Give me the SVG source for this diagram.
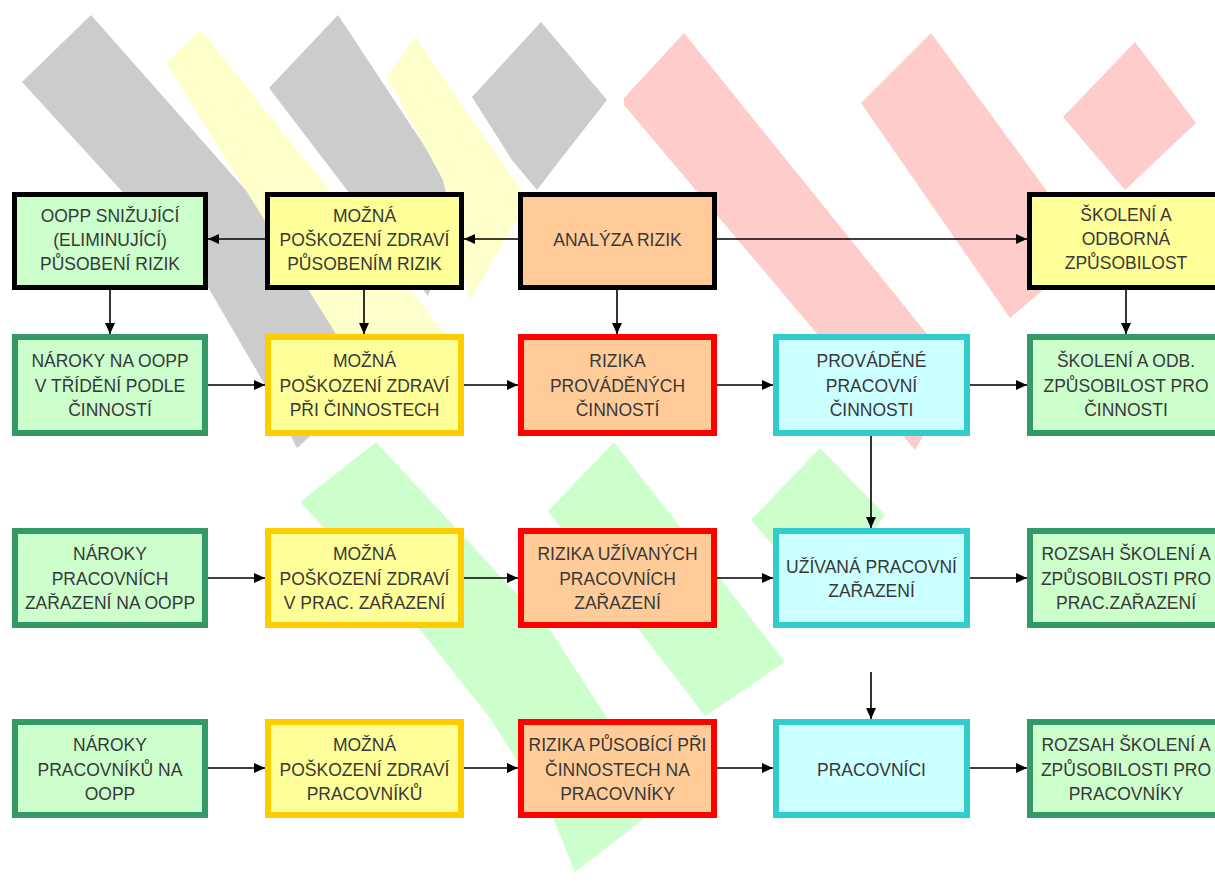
<svg xmlns="http://www.w3.org/2000/svg" width="1215" height="882" viewBox="0 0 1215 882">
<style>
.t{font-family:"Liberation Sans",Arial,sans-serif;font-size:17.5px;fill:#383838;text-anchor:middle}
.bk{stroke:#000;stroke-width:5}
.gn{fill:#ccffcc}
.yl{fill:#ffff99}
.pc{fill:#ffcc99}
.cy{fill:#ccffff}
.sg{stroke:#339966;stroke-width:6}
.sy{stroke:#ffcc00;stroke-width:6}
.sr{stroke:#ff0000;stroke-width:6}
.sc{stroke:#33cccc;stroke-width:6}
.bgG{fill:#cccccc}
.bgY{fill:#ffffcc}
.bgP{fill:#ffcccc}
.bgN{fill:#ccffcc}
.c{stroke:#000;stroke-width:1.6;fill:none;marker-end:url(#ah)}
</style>
<defs>
<marker id="ah" markerWidth="11" markerHeight="10" refX="11" refY="5" orient="auto" markerUnits="userSpaceOnUse">
<path d="M0,0L11,5L0,10z" fill="#000"/>
</marker>
</defs>
<rect width="1215" height="882" fill="#fff"/>
<g id="background">
<polygon class="bgG" points="91,15 396,360 297,448 265,385 205,282 22,82"/>
<polygon class="bgG" points="338,15 462,203 428,296 269,88"/>
<polygon class="bgG" points="541,22 607,100 560,160 537,190 512,160 472,97"/>
<polygon class="bgY" points="201,30 450,340 390,420 166,63"/>
<polygon class="bgY" points="415,37 528,200 470,300 443,180 387,77"/>
<polygon class="bgP" points="684,33 960,375 915,450 624,105 624,98"/>
<polygon class="bgP" points="931,33 1090,250 1010,318 861,103"/>
<polygon class="bgP" points="1135,42 1196,123 1125,190 1063,117"/>
<polygon class="bgN" points="376,442 550,630 607,718 645,818 575,872 553,818 490,718 420,630 300,502"/>
<polygon class="bgN" points="614,442 785,662 705,716 548,511"/>
<polygon class="bgN" points="820,448 885,515 820,600 751,520"/>
</g>
<g id="connectors">
<line class="c" x1="518" y1="239" x2="464" y2="239"/>
<line class="c" x1="265" y1="239" x2="208" y2="239"/>
<line class="c" x1="717" y1="239" x2="1027" y2="239"/>
<line class="c" x1="110" y1="290" x2="110" y2="334"/>
<line class="c" x1="364" y1="290" x2="364" y2="334"/>
<line class="c" x1="617" y1="290" x2="617" y2="334"/>
<line class="c" x1="1126" y1="290" x2="1126" y2="334"/>
<line class="c" x1="208" y1="385" x2="265" y2="385"/>
<line class="c" x1="464" y1="385" x2="518" y2="385"/>
<line class="c" x1="717" y1="385" x2="773" y2="385"/>
<line class="c" x1="970" y1="385" x2="1027" y2="385"/>
<line class="c" x1="871" y1="436" x2="871" y2="528"/>
<line class="c" x1="208" y1="578" x2="265" y2="578"/>
<line class="c" x1="464" y1="578" x2="518" y2="578"/>
<line class="c" x1="717" y1="578" x2="773" y2="578"/>
<line class="c" x1="970" y1="578" x2="1027" y2="578"/>
<line class="c" x1="871" y1="672" x2="871" y2="719"/>
<line class="c" x1="208" y1="768" x2="265" y2="768"/>
<line class="c" x1="464" y1="768" x2="518" y2="768"/>
<line class="c" x1="717" y1="768" x2="773" y2="768"/>
<line class="c" x1="970" y1="768" x2="1027" y2="768"/>
</g>
<g id="n-oopp-snizujici">
<rect class="gn bk" x="14.5" y="194.5" width="191" height="93"/>
<text class="t" x="110" y="222">OOPP SNIŽUJÍCÍ</text>
<text class="t" x="110" y="246">(ELIMINUJÍCÍ)</text>
<text class="t" x="110" y="270">PŮSOBENÍ RIZIK</text>
</g>
<g id="n-mozna-pusobenim">
<rect class="yl bk" x="267.5" y="194.5" width="194" height="93"/>
<text class="t" x="364.5" y="222">MOŽNÁ</text>
<text class="t" x="364.5" y="246">POŠKOZENÍ ZDRAVÍ</text>
<text class="t" x="364.5" y="270">PŮSOBENÍM RIZIK</text>
</g>
<g id="n-analyza">
<rect class="pc bk" x="520.5" y="194.5" width="194" height="93"/>
<text class="t" x="617.5" y="246">ANALÝZA RIZIK</text>
</g>
<g id="n-skoleni-odborna">
<rect class="yl bk" x="1029.5" y="194.5" width="193" height="93"/>
<text class="t" x="1126" y="221">ŠKOLENÍ A</text>
<text class="t" x="1126" y="245">ODBORNÁ</text>
<text class="t" x="1126" y="269">ZPŮSOBILOST</text>
</g>
<g id="n-naroky-cinnosti">
<rect class="gn sg" x="15" y="337" width="190" height="96"/>
<text class="t" x="110" y="367">NÁROKY NA OOPP</text>
<text class="t" x="110" y="391.5">V TŘÍDĚNÍ PODLE</text>
<text class="t" x="110" y="416">ČINNOSTÍ</text>
</g>
<g id="n-mozna-cinnosti">
<rect class="yl sy" x="268" y="337" width="193" height="96"/>
<text class="t" x="364.5" y="367">MOŽNÁ</text>
<text class="t" x="364.5" y="391.5">POŠKOZENÍ ZDRAVÍ</text>
<text class="t" x="364.5" y="416">PŘI ČINNOSTECH</text>
</g>
<g id="n-rizika-provadenych">
<rect class="pc sr" x="521" y="337" width="193" height="96"/>
<text class="t" x="617.5" y="367">RIZIKA</text>
<text class="t" x="617.5" y="391.5">PROVÁDĚNÝCH</text>
<text class="t" x="617.5" y="416">ČINNOSTÍ</text>
</g>
<g id="n-provadene-cinnosti">
<rect class="cy sc" x="776" y="337" width="191" height="96"/>
<text class="t" x="871.5" y="367">PROVÁDĚNÉ</text>
<text class="t" x="871.5" y="391.5">PRACOVNÍ</text>
<text class="t" x="871.5" y="416">ČINNOSTI</text>
</g>
<g id="n-skoleni-cinnosti">
<rect class="gn sg" x="1030" y="337" width="192" height="96"/>
<text class="t" x="1126" y="367">ŠKOLENÍ A ODB.</text>
<text class="t" x="1126" y="391.5">ZPŮSOBILOST PRO</text>
<text class="t" x="1126" y="416">ČINNOSTI</text>
</g>
<g id="n-naroky-zarazeni">
<rect class="gn sg" x="15" y="531" width="190" height="94"/>
<text class="t" x="110" y="560">NÁROKY</text>
<text class="t" x="110" y="584.5">PRACOVNÍCH</text>
<text class="t" x="110" y="609">ZAŘAZENÍ NA OOPP</text>
</g>
<g id="n-mozna-zarazeni">
<rect class="yl sy" x="268" y="531" width="193" height="94"/>
<text class="t" x="364.5" y="560">MOŽNÁ</text>
<text class="t" x="364.5" y="584.5">POŠKOZENÍ ZDRAVÍ</text>
<text class="t" x="364.5" y="609">V PRAC. ZAŘAZENÍ</text>
</g>
<g id="n-rizika-uzivanych">
<rect class="pc sr" x="521" y="531" width="193" height="94"/>
<text class="t" x="617.5" y="560">RIZIKA UŽÍVANÝCH</text>
<text class="t" x="617.5" y="584.5">PRACOVNÍCH</text>
<text class="t" x="617.5" y="609">ZAŘAZENÍ</text>
</g>
<g id="n-uzivana-zarazeni">
<rect class="cy sc" x="776" y="531" width="191" height="94"/>
<text class="t" x="871.5" y="572.5">UŽÍVANÁ PRACOVNÍ</text>
<text class="t" x="871.5" y="597">ZAŘAZENÍ</text>
</g>
<g id="n-rozsah-zarazeni">
<rect class="gn sg" x="1030" y="531" width="192" height="94"/>
<text class="t" x="1126" y="560">ROZSAH ŠKOLENÍ A</text>
<text class="t" x="1126" y="584.5">ZPŮSOBILOSTI PRO</text>
<text class="t" x="1126" y="609">PRAC.ZAŘAZENÍ</text>
</g>
<g id="n-naroky-pracovniku">
<rect class="gn sg" x="15" y="722" width="190" height="93"/>
<text class="t" x="110" y="751">NÁROKY</text>
<text class="t" x="110" y="775.5">PRACOVNÍKŮ NA</text>
<text class="t" x="110" y="800">OOPP</text>
</g>
<g id="n-mozna-pracovniku">
<rect class="yl sy" x="268" y="722" width="193" height="93"/>
<text class="t" x="364.5" y="751">MOŽNÁ</text>
<text class="t" x="364.5" y="775.5">POŠKOZENÍ ZDRAVÍ</text>
<text class="t" x="364.5" y="800">PRACOVNÍKŮ</text>
</g>
<g id="n-rizika-pusobici">
<rect class="pc sr" x="521" y="722" width="193" height="93"/>
<text class="t" x="617.5" y="751">RIZIKA PŮSOBÍCÍ PŘI</text>
<text class="t" x="617.5" y="775.5">ČINNOSTECH NA</text>
<text class="t" x="617.5" y="800">PRACOVNÍKY</text>
</g>
<g id="n-pracovnici">
<rect class="cy sc" x="776" y="722" width="191" height="93"/>
<text class="t" x="871.5" y="775.5">PRACOVNÍCI</text>
</g>
<g id="n-rozsah-pracovniky">
<rect class="gn sg" x="1030" y="722" width="192" height="93"/>
<text class="t" x="1126" y="751">ROZSAH ŠKOLENÍ A</text>
<text class="t" x="1126" y="775.5">ZPŮSOBILOSTI PRO</text>
<text class="t" x="1126" y="800">PRACOVNÍKY</text>
</g>
</svg>
